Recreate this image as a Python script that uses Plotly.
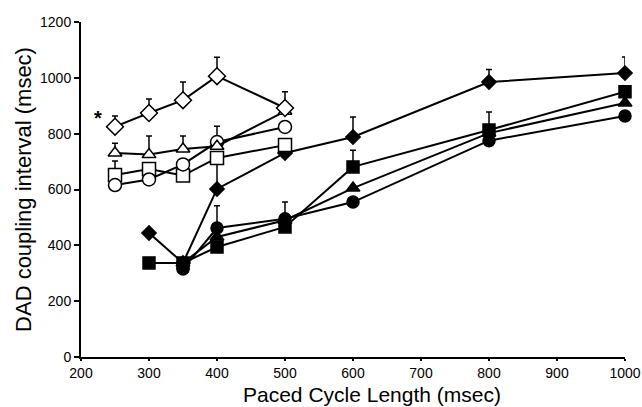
import plotly.graph_objects as go

# Open-symbol series
od_x = [250, 300, 350, 400, 500]
od_y = [825, 874, 920, 1006, 892]
od_err = [38, 50, 65, 68, 58]

ot_x = [250, 300, 350, 400, 500]
ot_y = [731, 725, 745, 755, 880]
ot_err = [35, 67, 47, 0, 0]

oc_x = [250, 300, 350, 400, 500]
oc_y = [616, 636, 690, 770, 824]
oc_err = [0, 0, 0, 57, 0]

os_x = [250, 300, 350, 400, 500]
os_y = [652, 673, 650, 713, 759]
os_err_plus = [50, 0, 0, 0, 0]
os_err_minus = [0, 0, 0, 115, 0]

# Filled-symbol series
fd_x = [300, 350, 400, 500, 600, 800, 1000]
fd_y = [444, 337, 602, 731, 788, 985, 1017]
fd_err = [0, 0, 0, 0, 72, 45, 58]

fs_x = [300, 350, 400, 500, 600, 800, 1000]
fs_y = [337, 337, 394, 466, 681, 813, 950]
fs_err = [0, 0, 0, 0, 60, 0, 0]

ft_x = [350, 400, 500, 600, 800, 1000]
ft_y = [337, 430, 490, 605, 802, 910]
ft_err = [0, 0, 0, 0, 76, 0]

fc_x = [350, 400, 500, 600, 800, 1000]
fc_y = [315, 462, 495, 555, 775, 863]
fc_err = [0, 80, 60, 0, 0, 0]

x_ticks = [200, 300, 400, 500, 600, 700, 800, 900, 1000]
y_ticks = [0, 200, 400, 600, 800, 1000, 1200]

fig = go.Figure()

def add(x, y, symbol, filled, size, plus, minus):
    fig.add_trace(go.Scatter(
        x=x, y=y, mode="lines+markers",
        line=dict(color="black", width=2),
        marker=dict(symbol=symbol, size=size,
                    color="black" if filled else "white",
                    line=dict(color="black", width=1.5)),
        error_y=dict(type="data", array=plus, arrayminus=minus, symmetric=False,
                     color="black", thickness=1.5, width=3),
        showlegend=False, cliponaxis=False))

zeros = lambda a: [0] * len(a)
add(fd_x, fd_y, "diamond", True, 11, fd_err, zeros(fd_err))
add(fs_x, fs_y, "square", True, 12, fs_err, zeros(fs_err))
add(ft_x, ft_y, "triangle-up", True, 12, ft_err, zeros(ft_err))
add(fc_x, fc_y, "circle", True, 12, fc_err, zeros(fc_err))
add(os_x, os_y, "square", False, 13, os_err_plus, os_err_minus)
add(oc_x, oc_y, "circle", False, 13, oc_err, zeros(oc_err))
add(ot_x, ot_y, "triangle-up", False, 12, ot_err, zeros(ot_err))
add(od_x, od_y, "diamond", False, 13, od_err, zeros(od_err))

fig.add_annotation(x=225, y=855, text="<b>*</b>", showarrow=False,
                   font=dict(size=20, color="black", family="Liberation Sans"))
fig.add_annotation(x=1016, y=1060, text="<b>*</b>", showarrow=False,
                   font=dict(size=20, color="black", family="Liberation Sans"))
fig.add_annotation(x=0.535, y=-0.113, xref="paper", yref="paper",
                   xanchor="center", yanchor="middle", showarrow=False,
                   text="Paced Cycle Length (msec)",
                   font=dict(size=21, color="black", family="Liberation Sans"))

fig.update_layout(
    width=642, height=407,
    margin=dict(l=81, r=17, t=22, b=50),
    plot_bgcolor="white", paper_bgcolor="white",
    font=dict(family="Liberation Sans", color="black"),
    xaxis=dict(range=[200, 1000], tickvals=x_ticks, showgrid=False, zeroline=False,
               automargin=False,
               showline=True, linecolor="black", linewidth=2,
               ticks="outside", ticklen=2, tickwidth=1.5, tickcolor="black",
               tickfont=dict(size=14, family="Liberation Sans")),
    yaxis=dict(range=[0, 1200], tickvals=y_ticks, showgrid=False, zeroline=False,
               automargin=False,
               showline=True, linecolor="black", linewidth=2,
               ticks="outside", ticklen=5, tickwidth=1.5, tickcolor="black",
               tickfont=dict(size=14, family="Liberation Sans"),
               title=dict(text="DAD coupling interval (msec)", font=dict(size=22), standoff=2)),
)

fig.write_html("out.html", config={"displayModeBar": False},
               post_script="document.body.style.margin='0';")
